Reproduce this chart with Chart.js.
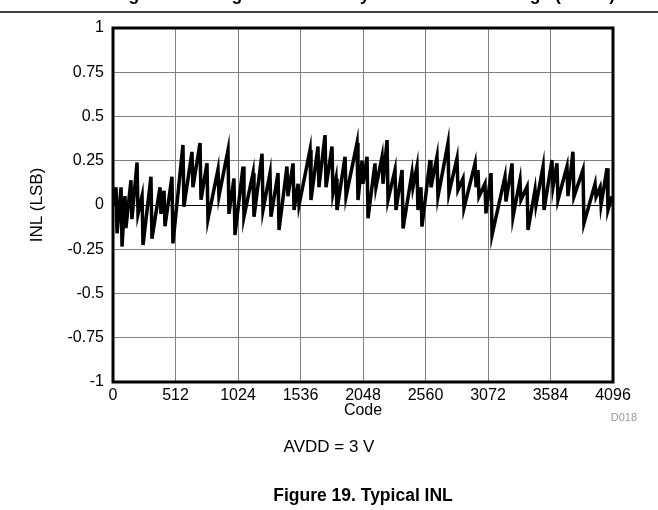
<!DOCTYPE html>
<html>
<head>
<meta charset="utf-8">
<script src="https://cdn.jsdelivr.net/npm/chart.js@4/dist/chart.umd.min.js"></script>
<style>
  html, body { margin: 0; padding: 0; background: #fff; }
  #wrap { width: 658px; height: 510px; position: relative; }
</style>
</head>
<body>
<div id="wrap"><canvas id="c" width="658" height="510"></canvas></div>
<script>
// ---- Data: peak / drop pairs of the INL trace ----
const codes = [8,
  25,33, 66,74, 98,106, 147,155, 197,205, 238,246, 311,319, 385,393, 418,426, 483,491,
  573,581, 647,655, 713,721, 770,778, 860,868, 942,950, 991,999, 1065,1073, 1147,1155, 1221,1229,
  1286,1294, 1352,1360, 1425,1433, 1475,1483, 1516,1524, 1614,1622, 1679,1687, 1737,1745, 1794,1802, 1827,1835,
  1901,1909, 1999,2007, 2040,2048, 2081,2089, 2146,2154, 2204,2212, 2245,2253, 2310,2318, 2368,2376, 2449,2457,
  2490,2498, 2523,2531, 2597,2605, 2654,2662, 2744,2752, 2818,2826, 2867,2875, 2966,2974, 2990,2998, 3047,3055,
  3097,3105, 3211,3219, 3269,3277, 3334,3342, 3392,3400, 3457,3465, 3523,3531, 3596,3604, 3637,3645, 3719,3727,
  3768,3776, 3850,3858, 3949,3957, 3990,3998, 4047,4055,
  4088];
const inlValues = [0.0,
  0.10,-0.16, 0.10,-0.235, 0.05,-0.13, 0.14,-0.08, 0.24,-0.05, 0.05,-0.226, 0.16,-0.19, 0.10,-0.05, 0.08,-0.12, 0.16,-0.217,
  0.339,-0.01, 0.30,0.10, 0.35,0.03, 0.235,-0.08, 0.20,0.05, 0.31,-0.05, 0.15,-0.17, 0.217,-0.066, 0.18,-0.066, 0.29,-0.028,
  0.18,-0.066, 0.18,-0.141, 0.217,0.05, 0.235,-0.028, 0.12,0.0, 0.311,0.028, 0.33,0.10, 0.395,0.10, 0.33,0.066, 0.15,-0.028,
  0.273,0.047, 0.35,0.028, 0.25,0.12, 0.273,-0.075, 0.235,0.10, 0.273,0.12, 0.367,0.028, 0.198,-0.028, 0.198,-0.132, 0.179,0.10,
  0.217,-0.028, 0.10,-0.122, 0.254,0.10, 0.273,0.047, 0.349,0.066, 0.264,0.085, 0.15,-0.019, 0.235,0.10, 0.198,0.047, 0.12,-0.047,
  0.18,-0.17, 0.16,0.02, 0.235,-0.066, 0.141,0.028, 0.104,-0.141, 0.085,0.0, 0.217,-0.028, 0.254,0.10, 0.235,0.028, 0.217,0.05,
  0.301,0.047, 0.198,-0.104, 0.12,0.047, 0.10,0.0, 0.207,-0.028,
  0.05];
const xTickValues = [0,512,1024,1536,2048,2560,3072,3584,4096];
const xTickLabels = ["0","512","1024","1536","2048","2560","3072","3584","4096"];
const yTickLabels = {"1":"1","0.75":"0.75","0.5":"0.5","0.25":"0.25","0":"0","-0.25":"-0.25","-0.5":"-0.5","-0.75":"-0.75","-1":"-1"};
const xTitle = "Code";
const yTitle = "INL (LSB)";
const condition = "AVDD = 3 V";
const caption = "Figure 19. Typical INL";
const prevCaption = "Figure 18. Integral Nonlinearity vs Reference Voltage (AVDD)";
const figId = "D018";

const points = codes.map((c, i) => ({ x: c, y: inlValues[i] }));

const FONT = "'Liberation Sans', Arial, sans-serif";

const framePlugin = {
  id: 'frame',
  afterDraw(chart) {
    const { ctx, chartArea: a } = chart;
    ctx.save();
    ctx.strokeStyle = '#000';
    ctx.lineWidth = 3;
    ctx.strokeRect(a.left, a.top, a.right - a.left, a.bottom - a.top);
    // top rule
    ctx.lineWidth = 1.5;
    ctx.beginPath();
    ctx.moveTo(0, 12);
    ctx.lineTo(658, 12);
    ctx.stroke();
    // clipped previous caption
    ctx.fillStyle = '#000';
    ctx.textAlign = 'center';
    ctx.textBaseline = 'alphabetic';
    ctx.font = "bold 17.5px " + FONT;
    ctx.fillText(prevCaption, 364, 0);
    const cx = (a.left + a.right) / 2;
    ctx.font = "16px " + FONT;
    ctx.fillText(xTitle, cx, 415);
    ctx.fillStyle = '#999';
    ctx.font = "11px " + FONT;
    ctx.textAlign = 'right';
    ctx.fillText(figId, 637, 421);
    ctx.fillStyle = '#000';
    ctx.textAlign = 'center';
    ctx.font = "17px " + FONT;
    ctx.fillText(condition, 329, 452);
    ctx.font = "bold 17.5px " + FONT;
    ctx.fillText(caption, cx, 501);
    // y title
    ctx.save();
    ctx.translate(37, (a.top + a.bottom) / 2);
    ctx.rotate(-Math.PI / 2);
    ctx.font = "17px " + FONT;
    ctx.textBaseline = 'middle';
    ctx.fillText(yTitle, 0, 0);
    ctx.restore();
    ctx.restore();
  }
};

new Chart(document.getElementById('c'), {
  type: 'line',
  data: {
    datasets: [{
      data: points,
      borderColor: '#000',
      borderWidth: 3.5,
      pointRadius: 0,
      tension: 0,
      fill: false
    }]
  },
  options: {
    responsive: false,
    animation: false,
    devicePixelRatio: 1,
    layout: { padding: { left: 0, top: 28, right: 45, bottom: 0 } },
    plugins: { legend: { display: false }, tooltip: { enabled: false } },
    scales: {
      x: {
        type: 'linear',
        min: 0, max: 4096,
        afterBuildTicks(scale) { scale.ticks = xTickValues.map(v => ({ value: v })); },
        afterFit(scale) { scale.height = 128; },
        ticks: {
          color: '#000', font: { family: FONT, size: 16 }, padding: 4, maxRotation: 0, autoSkip: false,
          callback: (v) => { const i = xTickValues.indexOf(v); return i >= 0 ? xTickLabels[i] : ''; }
        },
        grid: { color: '#808080', lineWidth: 1, drawTicks: false },
        border: { display: false }
      },
      y: {
        type: 'linear',
        min: -1, max: 1,
        ticks: {
          stepSize: 0.25,
          color: '#000',
          font: { family: FONT, size: 16 },
          padding: 9,
          callback: (v) => yTickLabels[String(v)] ?? ''
        },
        afterFit(scale) { scale.width = 113; },
        grid: {
          color: (ctx) => (ctx.tick && ctx.tick.value === 0) ? '#000' : '#808080',
          lineWidth: 1,
          drawTicks: false
        },
        border: { display: false }
      }
    }
  },
  plugins: [framePlugin]
});
</script>
</body>
</html>
